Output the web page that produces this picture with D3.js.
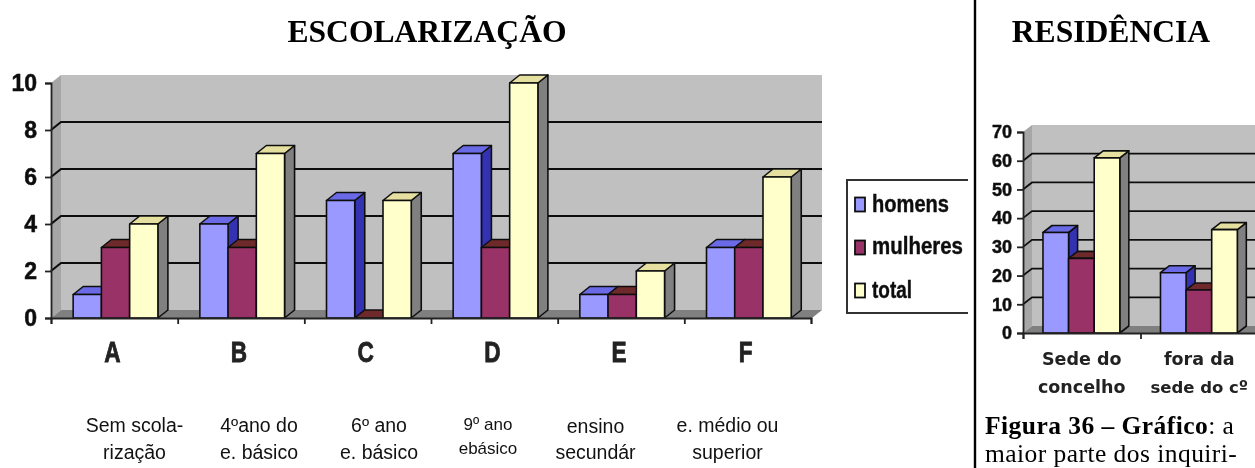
<!DOCTYPE html>
<html><head><meta charset="utf-8">
<script src="https://cdn.jsdelivr.net/npm/d3@7"></script>
<style>html,body{margin:0;padding:0;background:#fff;overflow:hidden}svg{display:block}</style>
</head><body><svg id="c" width="1255" height="468"></svg>
<script>
const seriesNames = ["homens","mulheres","total"];
const eduCats = ["A","B","C","D","E","F"];
const eduHomens = [1,4,5,7,1,3];
const eduMulheres = [3,3,0,3,1,3];
const eduTotal = [4,7,5,10,2,6];
const eduTicks = [0,2,4,6,8,10];
const eduNotes = [["Sem scola-","rização"],["4ºano do","e. básico"],["6º ano","e. básico"],["9º ano","ebásico"],["ensino","secundár"],["e. médio ou","superior"]];
const resCats = [["Sede do","concelho"],["fora da","sede do cº"]];
const resHomens = [35,21];
const resMulheres = [26,15];
const resTotal = [61,36];
const resTicks = [0,10,20,30,40,50,60,70];

const palette = [
 {front:"#9999ff",top:"#6a6ae6",side:"#3333b3"},
 {front:"#993366",top:"#6e2b2b",side:"#6e1f48"},
 {front:"#ffffcc",top:"#e6e0a0",side:"#808080"}
];
const svg = d3.select("#c");
const defs = svg.append("defs");
defs.append("filter").attr("id","soft").attr("x","-5%").attr("y","-5%").attr("width","110%").attr("height","110%")
  .append("feGaussianBlur").attr("stdDeviation",0.6);
const poly = pts => "M"+pts.map(p=>p.join(",")).join("L")+"Z";
const sans="'Liberation Sans',Arial,sans-serif";

function chart(o){
  const g = svg.append("g").attr("filter","url(#soft)");
  const x = d3.scaleLinear().domain([0,o.slots]).range([o.x0,o.x1]);
  const y = d3.scaleLinear().domain([0,o.max]).range([o.y0,o.yTop]);
  const dx=o.dx, dy=o.dy;
  const right = o.wallRight;
  g.append("path").attr("d",poly([[o.x0,y(0)],[o.x0+dx,y(0)-dy],[o.x0+dx,y(o.max)-dy],[o.x0,y(o.max)]])).attr("fill","#a6a6a6");
  g.append("rect").attr("x",o.x0+dx).attr("y",y(o.max)-dy).attr("width",right-o.x0-dx).attr("height",y(0)-y(o.max)).attr("fill","#c0c0c0");
  g.append("path").attr("d",poly([[o.x0,y(0)],[o.x0+dx,y(0)-dy],[right,y(0)-dy],[right-dx,y(0)]])).attr("fill","#808080");
  o.ticks.filter(t=>t>0&&t<o.max).forEach(t=>{
    g.append("path").attr("d",`M${o.x0},${y(t)}L${o.x0+dx},${y(t)-dy}L${right},${y(t)-dy}`)
     .attr("fill","none").attr("stroke","#111").attr("stroke-width",o.gridW);
  });
  o.series.forEach((vals,s)=>{
    vals.forEach((v,i)=>{
      const a=x(i+o.pad+s*o.bw), b=x(i+o.pad+(s+1)*o.bw), t=y(v), z=y(0);
      const c=palette[s];
      const bg=g.append("g").attr("stroke","#111").attr("stroke-width",o.barW).attr("stroke-linejoin","round");
      bg.append("path").attr("d",poly([[b,z],[b+dx,z-dy],[b+dx,t-dy],[b,t]])).attr("fill",c.side);
      bg.append("path").attr("d",poly([[a,t],[a+dx,t-dy],[b+dx,t-dy],[b,t]])).attr("fill",c.top);
      bg.append("rect").attr("x",a).attr("y",t).attr("width",b-a).attr("height",z-t).attr("fill",c.front);
    });
  });
  const ay=d3.axisLeft(y).tickValues(o.ticks).tickSize(6).tickPadding(o.tickPad).tickFormat(d3.format("d"));
  const ya=g.append("g").attr("transform",`translate(${o.x0},0)`).call(ay);
  const ax=d3.axisBottom(x).tickValues(d3.range(0,o.slots+1)).tickSize(6).tickFormat("");
  const xa=g.append("g").attr("transform",`translate(0,${y(0)})`).call(ax);
  [ya,xa].forEach(a=>{a.selectAll("path").attr("stroke","#222").attr("stroke-width",1.8);a.selectAll("line").attr("stroke","#222").attr("stroke-width",1.8);});
  ya.selectAll("text").attr("font-family",sans).attr("font-weight","bold")
    .attr("font-size",o.tickFont).attr("fill","#111").attr("stroke","#111").attr("stroke-width",0.5);
  o.labels(g,x,y);
}

chart({
  slots:6,max:10,ticks:eduTicks,series:[eduHomens,eduMulheres,eduTotal],
  x0:51,x1:811,wallRight:822,y0:318,yTop:83,dx:10,dy:8,pad:0.175,bw:0.223,gridW:2.2,barW:1.6,tickFont:23,tickPad:8,
  labels:(g,x,y)=>{
    g.selectAll("text.cat").data(eduCats).join("text").attr("class","cat")
      .attr("transform",(d,i)=>`translate(${x(i+0.5)-2},362) scale(0.78,1)`).attr("text-anchor","middle")
      .attr("font-family",sans).attr("font-weight","bold").attr("font-size",29).attr("fill","#222").attr("stroke","#222").attr("stroke-width",0.8).text(d=>d);
  }
});
chart({
  slots:2,max:70,ticks:resTicks,series:[resHomens,resMulheres,resTotal],
  x0:1023,x1:1258,wallRight:1280,y0:333,yTop:132,dx:9,dy:7,pad:0.17,bw:0.218,gridW:1.8,barW:1.6,tickFont:18,tickPad:5,
  labels:(g,x,y)=>{
    resCats.forEach((c,i)=>c.forEach((l,j)=>{
      g.append("text").attr("x",x(i+0.5)).attr("y",365+j*28).attr("text-anchor","middle")
       .attr("font-family","'DejaVu Sans',Verdana,sans-serif").attr("font-weight","bold").attr("font-size",i===1&&j===1?16.5:17.5).attr("fill","#222").text(l);
    }));
  }
});

// legend
const lg=svg.append("g").attr("filter","url(#soft)");
lg.append("path").attr("d","M968,180H847V313H968").attr("fill","#fff").attr("stroke","#333").attr("stroke-width",2);
const legendY=[204.5,247.5,290.5], legendLen=[77,91,40], legendBase=[212,254,298];
seriesNames.forEach((s,i)=>{
  lg.append("rect").attr("x",855).attr("y",legendY[i]-7).attr("width",10).attr("height",14).attr("fill",palette[i].front).attr("stroke","#111").attr("stroke-width",1.8);
  lg.append("text").attr("x",872).attr("y",legendBase[i]).attr("font-family",sans).attr("textLength",legendLen[i]).attr("lengthAdjust","spacingAndGlyphs")
    .attr("font-weight","bold").attr("font-size",23).attr("fill","#111").attr("stroke","#111").attr("stroke-width",0.4).text(s);
});

// divider
svg.append("line").attr("x1",975).attr("x2",975).attr("y1",0).attr("y2",468).attr("stroke","#000").attr("stroke-width",2.4);

// titles
const serif="'Liberation Serif','Times New Roman',serif";
svg.append("text").attr("x",427).attr("y",42).attr("text-anchor","middle").attr("font-family",serif).attr("font-weight","bold").attr("font-size",31.6).text("ESCOLARIZAÇÃO");
svg.append("text").attr("x",1111).attr("y",42).attr("text-anchor","middle").attr("font-family",serif).attr("font-weight","bold").attr("font-size",31.6).text("RESIDÊNCIA");

// notes
const notesX=[134.5,259,379,488,595.5,727.5], notesSize=[19.5,19.5,19.5,17,19.5,19.5], notesBase=[432,432,432,430,433,432], notesGap=[29,29,29,24,28,29];
eduNotes.forEach((ls,i)=>ls.forEach((l,j)=>{
  svg.append("text").attr("x",notesX[i]).attr("y",notesBase[i]+j*notesGap[i]-(j===1&&i!==3?2:0)).attr("text-anchor","middle")
    .attr("font-family",sans).attr("font-size",notesSize[i]).attr("fill","#111").text(l);
}));

// caption
const cap=svg.append("text").attr("x",985).attr("y",434).attr("font-family",serif).attr("font-size",25.5).attr("letter-spacing",0.45);
cap.append("tspan").attr("font-weight","bold").text("Figura 36 – Gráfico");
cap.append("tspan").text(": a");
svg.append("text").attr("x",985).attr("y",462.4).attr("font-family",serif).attr("font-size",25.5).attr("letter-spacing",0.45).text("maior parte dos inquiri-");
</script></body></html>
